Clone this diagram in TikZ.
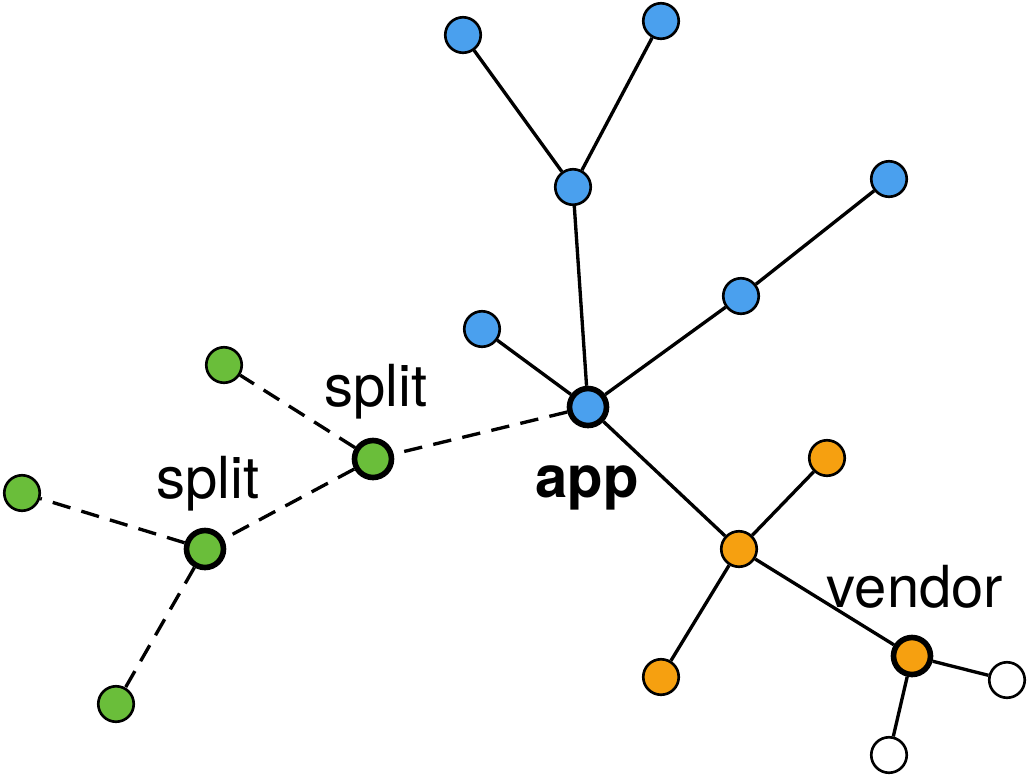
\documentclass[tikz,border=0pt]{standalone}
\usepackage{fontspec}
\setmainfont{TeX Gyre Heros}
\definecolor{depblue}{RGB}{74,160,238}
\definecolor{deporange}{RGB}{246,160,16}
\definecolor{depgreen}{RGB}{106,190,58}
\tikzset{
  dep/.style={circle,draw=black,line width=1.5pt,inner sep=0pt,minimum size=0.71cm},
  hub/.style={dep,line width=3.2pt,minimum size=0.74cm},
  link/.style={line width=1.9pt},
  splitlink/.style={link,dash pattern=on 10.5pt off 6.5pt},
  lbl/.style={font=\fontsize{33}{38}\selectfont,inner sep=0pt}
}
\begin{document}
\begin{tikzpicture}[x=0.02cm,y=-0.02cm]
        \useasboundingbox (0,0) rectangle (1029,779);
        % blue tree
        \node[hub,fill=depblue] (app) at (588,407) {};
        \node[dep,fill=depblue] (b1) at (463,35) {};
        \node[dep,fill=depblue] (b2) at (661,21) {};
        \node[dep,fill=depblue] (b3) at (573,187) {};
        \node[dep,fill=depblue] (b4) at (889,179) {};
        \node[dep,fill=depblue] (b5) at (741,296) {};
        \node[dep,fill=depblue] (b6) at (482,329) {};
        % orange tree
        \node[dep,fill=deporange] (o1) at (827,458) {};
        \node[dep,fill=deporange] (o2) at (739,549) {};
        \node[dep,fill=deporange] (o3) at (661,677) {};
        \node[hub,fill=deporange] (vendor) at (912,656) {};
        \node[dep,fill=white] (w1) at (1007,680) {};
        \node[dep,fill=white] (w2) at (889,755) {};
        % green tree
        \node[hub,fill=depgreen] (s1) at (373,459) {};
        \node[hub,fill=depgreen] (s2) at (205,549) {};
        \node[dep,fill=depgreen] (g1) at (224,365) {};
        \node[dep,fill=depgreen] (g2) at (22,493) {};
        \node[dep,fill=depgreen] (g3) at (116,704) {};
        % labels
        \node[lbl] at (376,392) {split};
        \node[lbl] at (208,484) {split};
        \node[lbl,font=\fontsize{33}{38}\selectfont\bfseries] at (587,488) {app};
        \node[lbl] at (915,587) {vendor};
        % edges
        \foreach \a/\b in {b3/b1,b3/b2,app/b3,b5/b4,app/b5,app/b6,app/o2,
                           o2/o1,o2/o3,o2/vendor,vendor/w1,vendor/w2}
          {\draw[link] (\a) -- (\b);}
        \foreach \a/\b in {app/s1,s1/g1,s1/s2,s2/g2,s2/g3}
          {\draw[splitlink] (\a) -- (\b);}
      \end{tikzpicture}
\end{document}
